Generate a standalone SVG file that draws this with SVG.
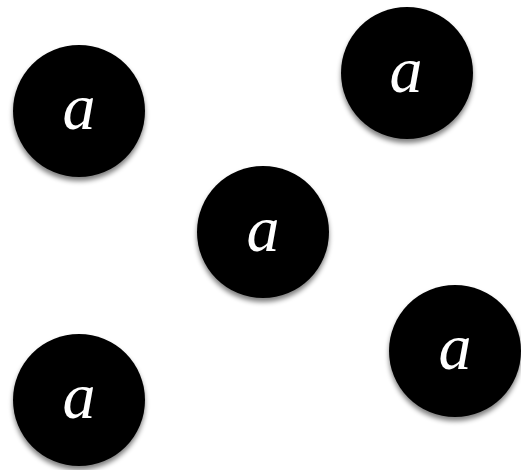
<svg xmlns="http://www.w3.org/2000/svg" width="521" height="470" viewBox="0 0 521 470">
<style>
.node circle{fill:#000;filter:url(#sh)}
.node text{fill:#fff;font-family:"Liberation Serif","Times New Roman",serif;font-style:italic;font-size:66px;text-anchor:middle}
</style>
<defs>
<filter id="sh" x="-20%" y="-20%" width="140%" height="150%">
<feGaussianBlur in="SourceAlpha" stdDeviation="2.5"/>
<feOffset dy="4" result="b"/>
<feComponentTransfer><feFuncA type="linear" slope="0.5"/></feComponentTransfer>
<feMerge><feMergeNode/><feMergeNode in="SourceGraphic"/></feMerge>
</filter>
</defs>
<g id="connectors"></g>
<g id="n1" class="node"><circle cx="79" cy="111" r="66"/><text x="79" y="129">a</text></g>
<g id="n2" class="node"><circle cx="407" cy="73" r="66"/><text x="406" y="92">a</text></g>
<g id="n3" class="node"><circle cx="263" cy="232" r="66"/><text x="263" y="251">a</text></g>
<g id="n4" class="node"><circle cx="455" cy="351" r="66"/><text x="455" y="369">a</text></g>
<g id="n5" class="node"><circle cx="79" cy="400" r="66"/><text x="79" y="418">a</text></g>
</svg>
